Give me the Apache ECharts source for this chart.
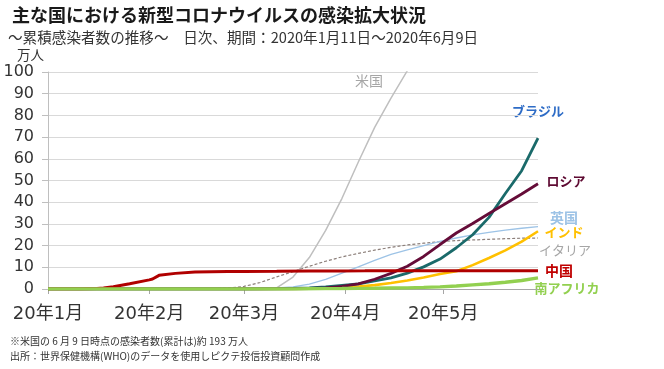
<!DOCTYPE html>
<html><head><meta charset="utf-8">
<script src="https://cdn.jsdelivr.net/npm/echarts@6/dist/echarts.min.js"></script>
<style>html,body{margin:0;padding:0;background:#fff}#c{width:664px;height:369px}</style>
</head><body><div id="c"></div>
<script>
// Period: 2020-01-11 .. 2020-06-09 (151 daily categories)
const startYear = 2020, startMonth = 0, startDay = 11, dayCount = 151;
// sample days (index from Jan 11)
const sampleDays = [0,5,10,15,20,25,30,35,40,45,50,55,60,65,70,75,80,85,90,95,100,105,110,115,120,125,130,135,140,145,150];
// values in 万人
const usValues     = [0,0,0,0,0,0,0,0,0,0,0,0,0.07,0.2,0.5,5.5,14.5,27,41.8,58.5,74.5,88,100.6,117,128,138,148,158,172,183,193];
const brazilValues = [0,0,0,0,0,0,0,0,0,0,0,0,0.005,0.02,0.09,0.24,0.46,1.0,1.7,2.4,3.7,5.1,7.3,10.2,13.8,19.0,25.0,33.0,44.0,54.5,69.5];
const russiaValues = [0,0,0,0,0,0,0,0,0,0,0,0,0.002,0.01,0.03,0.08,0.23,0.54,1.2,2.4,4.5,7.2,10.5,15.0,20.5,25.8,30.2,34.8,39.3,43.8,48.5];
const ukValues     = [0,0,0,0,0,0,0,0,0,0,0.004,0.016,0.05,0.15,0.5,0.95,2.2,4.4,7.3,10.2,13.2,16.0,18.0,20.0,21.9,23.5,24.9,26.1,27.1,28.0,28.7];
const indiaValues  = [0,0,0,0,0,0,0,0,0,0,0,0,0.006,0.01,0.03,0.06,0.13,0.35,0.7,1.15,1.8,2.8,3.9,5.3,6.9,8.2,11.0,14.3,17.8,21.8,26.6];
const italyValues  = [0,0,0,0,0,0,0,0,0,0.03,0.11,0.38,1.2,3.0,5.6,8.0,10.5,12.8,14.8,16.4,17.9,19.2,20.3,21.1,21.8,22.3,22.6,22.9,23.2,23.4,23.5];
const saValues     = [0,0,0,0,0,0,0,0,0,0,0,0,0,0,0,0,0.14,0.16,0.2,0.27,0.33,0.44,0.54,0.75,1.0,1.4,1.9,2.4,3.1,3.9,5.1];
const chinaDays    = [0,5,10,15,17,20,25,31,32,34,39,45,50,55,60,70,80,90,97,100,110,130,150];
const chinaValues  = [0.004,0.0045,0.03,0.2,0.45,1.0,2.4,4.2,4.6,6.3,7.2,7.8,8.0,8.08,8.1,8.14,8.25,8.33,8.36,8.43,8.44,8.45,8.46];
const tickDayOfMonth = '11';

const titleText = '主な国における新型コロナウイルスの感染拡大状況';
const subText = '～累積感染者数の推移～　日次、期間：2020年1月11日～2020年6月9日';
const note1 = '※米国の 6 月 9 日時点の感染者数(累計は)約 193 万人';
const note2 = '出所：世界保健機構(WHO)のデータを使用しピクテ投信投資顧問作成';
const unitText = '万人';

const categories = [];
const t0 = Date.UTC(startYear, startMonth, startDay);
for (let i = 0; i < dayCount; i++) {
  categories.push(new Date(t0 + i * 86400000).toISOString().slice(0, 10));
}
const pairs = (days, vals) => days.map((d, i) => [categories[d], vals[i]]);
const isTick = (idx, val) => String(val).slice(8, 10) === tickDayOfMonth;

const CJK = 'Noto Sans CJK JP';
const mk = (name, days, vals, color, width, dash) => ({
  name, type: 'line', data: pairs(days, vals), showSymbol: false, symbol: 'none',
  lineStyle: { color, width, type: dash || 'solid' }, clip: true, animation: false
});

const labels = [
  ['米国', 369, 81, '#a6a6a6', 14, 'normal'],
  ['ブラジル', 538, 111, '#2e6cc6', 13, 'bold'],
  ['ロシア', 566, 181, '#5e0a32', 13, 'bold'],
  ['英国', 564, 218, '#9dc3e6', 14, 'bold'],
  ['インド', 564, 232, '#ffc000', 13, 'bold'],
  ['イタリア', 565, 250, '#a6a6a6', 13, 'normal'],
  ['中国', 559, 271, '#c00000', 14, 'bold'],
  ['南アフリカ', 567, 288, '#92d050', 13, 'bold']
];

const chart = echarts.init(document.getElementById('c'), null, { renderer: 'canvas' });
chart.setOption({
  animation: false,
  backgroundColor: '#fff',
  title: [
    { text: titleText, left: 12, top: 6, padding: 0, textStyle: { fontFamily: CJK, fontSize: 18, fontWeight: 'bold', color: '#1a1a1a' } },
    { text: subText, left: 8, top: 30, padding: 0, textStyle: { fontFamily: CJK, fontSize: 14.6, fontWeight: 'normal', color: '#333' } },
    { text: note1, left: 10, top: 336, padding: 0, textStyle: { fontFamily: CJK, fontSize: 10, fontWeight: 'normal', color: '#333' } },
    { text: note2, left: 10, top: 351, padding: 0, textStyle: { fontFamily: CJK, fontSize: 10, fontWeight: 'normal', color: '#333' } }
  ],
  grid: { left: 48, right: 126, top: 72, bottom: 80 },
  xAxis: {
    type: 'category', data: categories, boundaryGap: false,
    axisLine: { lineStyle: { color: '#a6a6a6', width: 1 } },
    axisTick: { show: true, interval: isTick, length: 5, lineStyle: { color: '#a6a6a6' } },
    axisLabel: {
      interval: isTick, margin: 16, fontSize: 18, color: '#333',
      fontFamily: 'DejaVu Sans, ' + CJK,
      formatter: v => '20年' + parseInt(v.slice(5, 7), 10) + '月'
    },
    splitLine: { show: false }
  },
  yAxis: {
    type: 'value', min: 0, max: 100, interval: 10,
    axisLine: { show: true, lineStyle: { color: '#bfbfbf' } },
    axisTick: { show: true, length: 6, lineStyle: { color: '#bfbfbf' } },
    axisLabel: { margin: 14, fontSize: 16, color: '#333', fontFamily: 'DejaVu Sans' },
    splitLine: { lineStyle: { color: '#d9d9d9', width: 1 } }
  },
  series: [
    mk('米国', sampleDays, usValues, '#bfbfbf', 1.5),
    mk('イタリア', sampleDays, italyValues, '#8c7f7a', 1.2, [3, 2]),
    mk('英国', sampleDays, ukValues, '#9dc3e6', 1.3),
    mk('インド', sampleDays, indiaValues, '#ffc000', 2.6),
    mk('ブラジル', sampleDays, brazilValues, '#1a6a6a', 2.8),
    mk('ロシア', sampleDays, russiaValues, '#650c38', 2.8),
    mk('中国', chinaDays, chinaValues, '#b00000', 3),
    mk('南アフリカ', sampleDays, saValues, '#92d050', 3.4)
  ],
  graphic: [
    { type: 'text', left: 17, top: 48, style: { text: unitText, fontFamily: CJK, fontSize: 13.5, fill: '#333' } }
  ].concat(labels.map(l => ({
    type: 'text', x: l[1], y: l[2],
    style: { text: l[0], fontFamily: CJK, fontSize: l[4], fontWeight: l[5], fill: l[3], align: 'center', verticalAlign: 'middle' }
  })))
});
</script></body></html>
